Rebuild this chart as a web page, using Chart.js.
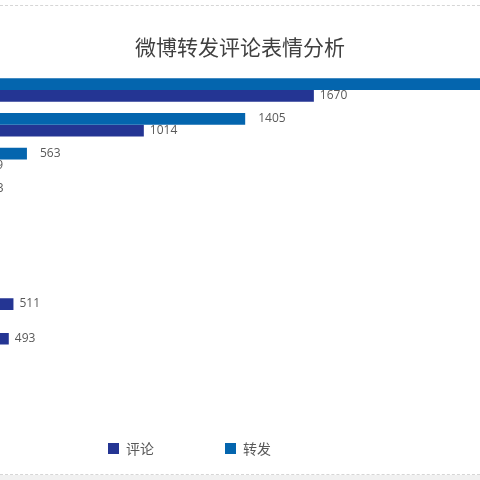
<!DOCTYPE html>
<html>
<head>
<meta charset="utf-8">
<script src="https://cdn.jsdelivr.net/npm/chart.js@4.4.0/dist/chart.umd.min.js"></script>
<style>
  html, body { margin:0; padding:0; width:480px; height:480px; overflow:hidden; background:#fff; }
  #frame { position:absolute; left:0; top:5px; width:480px; height:468px;
           border-top:1px dashed #d6d6d6; border-bottom:1px dashed #d6d6d6; }
  #below { position:absolute; left:0; top:475px; width:480px; height:5px; background:#f1f1f1; }
  /* the chart is wider than the window, its left part (labels) is cut off */
  #wrap { position:absolute; left:-119px; top:0; width:718px; height:480px; }
</style>
</head>
<body>
<div id="frame"></div>
<div id="below"></div>
<div id="wrap"><canvas id="chart" width="718" height="480"></canvas></div>
<script>
// categories are not readable in the picture (cut off), top to bottom
const categories = ['表情1', '表情2', '表情3', '表情4', '表情5', '表情6', '表情7', '表情8', '表情9', '表情10'];
const repost  = [2450, 1405, 563, 343, 300, 262, 228, 196, 160, 125];   // 转发
const comment = [1670, 1014, 369, 330, 285, 250, 511, 493, 210, 180];   // 评论
const seriesNames = ['转发', '评论'];

// value labels after the end of every bar
const barLabels = {
  id: 'barLabels',
  afterDatasetsDraw(chart) {
    const ctx = chart.ctx;
    const gaps = [13, 6];
    ctx.save();
    ctx.font = '12px "Open Sans"';
    ctx.fillStyle = '#595959';
    ctx.textBaseline = 'middle';
    chart.data.datasets.forEach(function (ds, i) {
      chart.getDatasetMeta(i).data.forEach(function (bar, j) {
        ctx.fillText(String(ds.data[j]), bar.x + gaps[i], bar.y);
      });
    });
    ctx.restore();
  }
};

// legend sits left of the title centre and close to the plot
// (only the top moves so the legend's clip box still covers the items)
const legendShift = {
  id: 'legendShift',
  afterLayout(chart) {
    const lg = chart.legend;
    lg.left -= 50.5; lg.right -= 50.5;
    lg.top -= 49;
  }
};

new Chart(document.getElementById('chart'), {
  type: 'bar',
  data: {
    labels: categories,
    datasets: [
      { label: seriesNames[0], data: repost,  backgroundColor: '#0465ae', borderWidth: 0 },
      { label: seriesNames[1], data: comment, backgroundColor: '#243593', borderWidth: 0 }
    ]
  },
  options: {
    indexAxis: 'y',
    responsive: false,
    animation: false,
    categoryPercentage: 0.675,
    barPercentage: 1,
    layout: { padding: { top: 24, bottom: 20.4, left: 0, right: 0 } },
    scales: {
      x: { display: false, min: 0, max: 2770 },
      y: { display: false }
    },
    plugins: {
      title: {
        display: true,
        text: '微博转发评论表情分析',
        color: '#404040',
        font: { family: '"Noto Sans CJK SC"', size: 21, weight: 'normal' },
        padding: { top: 10, bottom: 13.5 }
      },
      legend: {
        position: 'bottom',
        maxHeight: 40,
        labels: {
          boxWidth: 11,
          boxHeight: 11,
          padding: 71,
          color: '#595959',
          font: { family: '"Noto Sans CJK SC"', size: 14 },
          sort: function (a, b) { return b.datasetIndex - a.datasetIndex; }
        }
      },
      tooltip: { enabled: false }
    }
  },
  plugins: [barLabels, legendShift]
});
</script>
</body>
</html>
